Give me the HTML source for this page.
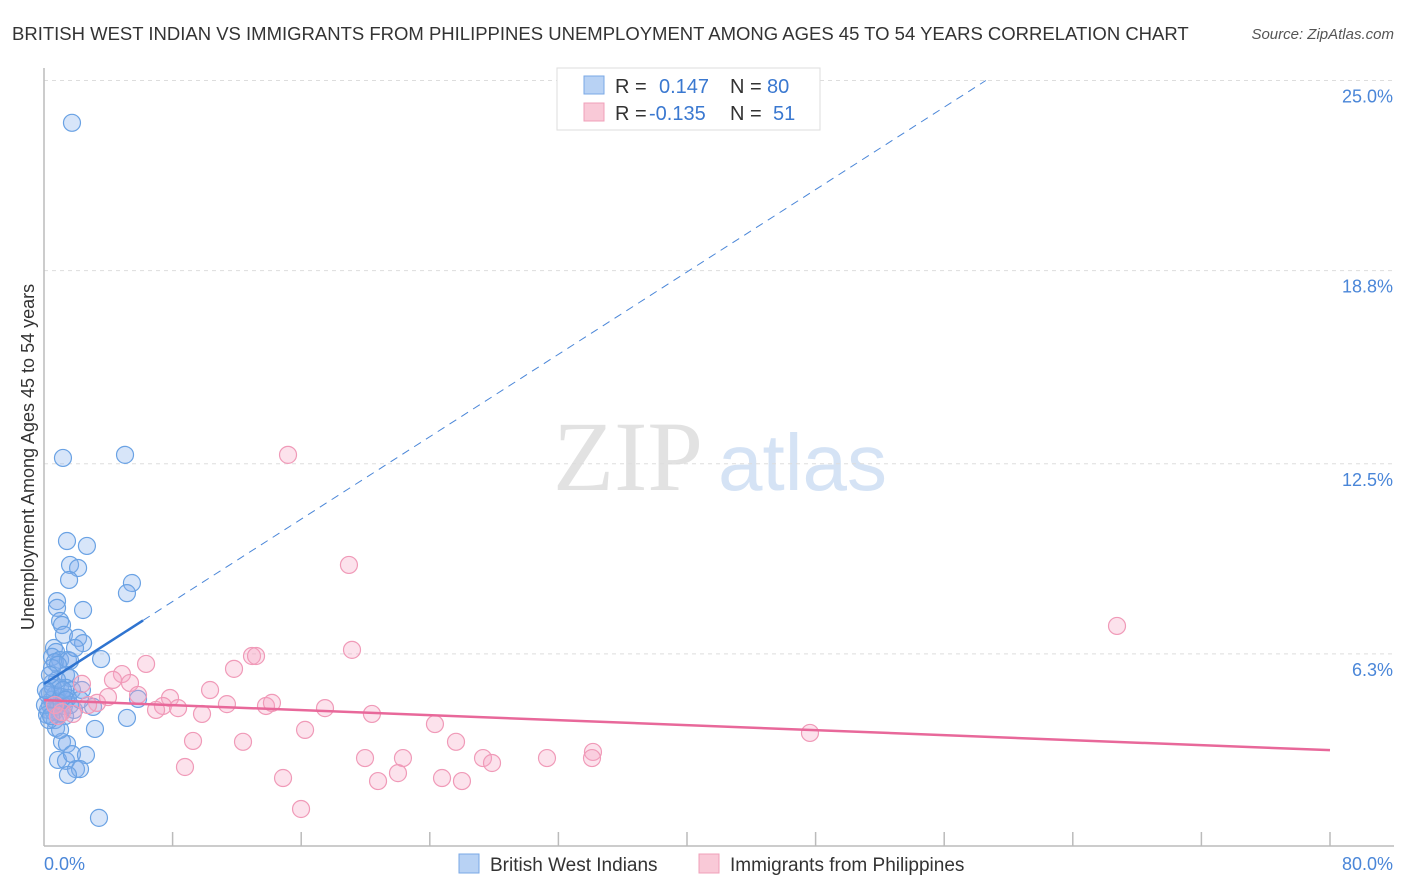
<!DOCTYPE html>
<html><head><meta charset="utf-8"><style>
body{margin:0;background:#fff;font-family:"Liberation Sans",sans-serif;}
svg{display:block}
</style></head><body>
<svg id="chart" width="1406" height="892">
<text x="12" y="40" font-size="18.5" fill="#333">BRITISH WEST INDIAN VS IMMIGRANTS FROM PHILIPPINES UNEMPLOYMENT AMONG AGES 45 TO 54 YEARS CORRELATION CHART</text>
<text x="1394" y="39" font-size="15" fill="#555" font-style="italic" text-anchor="end">Source: ZipAtlas.com</text>
<g>
<text x="553" y="490" font-size="100" font-family="Liberation Serif,serif" fill="#e2e2e2">ZIP</text>
<text x="718" y="490" font-size="80" fill="#d5e3f5">atlas</text>
</g>
<g id="grid"></g>
<g id="axes"></g>
<g id="pts"></g>
<g id="trend"></g>
<text transform="translate(34,457) rotate(-90)" font-size="18" fill="#333" text-anchor="middle">Unemployment Among Ages 45 to 54 years</text>
<text x="44" y="870" font-size="18" fill="#4a86d8">0.0%</text>
<text x="1393" y="870" font-size="18" fill="#4a86d8" text-anchor="end">80.0%</text>
<g>
<rect x="557" y="68" width="263" height="62" fill="#fff" stroke="#ddd"/>
<rect x="584" y="76" width="20" height="18" fill="#b8d2f4" stroke="#7aa8e6"/>
<rect x="584" y="103" width="20" height="18" fill="#f9c9d7" stroke="#f0a0ba"/>
<text x="615" y="93" font-size="20" fill="#333">R =</text>
<text x="659" y="93" font-size="20" fill="#3a78d0">0.147</text>
<text x="730" y="93" font-size="20" fill="#333">N =</text>
<text x="767" y="93" font-size="20" fill="#3a78d0">80</text>
<text x="615" y="120" font-size="20" fill="#333">R =</text>
<text x="649" y="120" font-size="20" fill="#3a78d0">-0.135</text>
<text x="730" y="120" font-size="20" fill="#333">N =</text>
<text x="773" y="120" font-size="20" fill="#3a78d0">51</text>
</g>
<g>
<rect x="459" y="854" width="20" height="19" fill="#b8d2f4" stroke="#7aa8e6"/>
<text x="490" y="871" font-size="19" fill="#333">British West Indians</text>
<rect x="699" y="854" width="20" height="19" fill="#f9c9d7" stroke="#f0a0ba"/>
<text x="730" y="871" font-size="19" fill="#333">Immigrants from Philippines</text>
</g>
</svg>
<script>
const yTicks=[6.3,12.5,18.8,25.0];
const yTickLabels=["6.3%","12.5%","18.8%","25.0%"];
const xTicks=[8,16,24,32,40,48,56,64,72,80];
const blueX=[1.74,1.18,5.04,1.43,2.67,1.62,2.12,1.56,5.47,5.16,0.81,0.81,2.43,1.00,1.12,1.24,2.12,2.43,0.62,0.75,0.50,1.00,0.68,1.49,1.62,3.55,1.37,1.62,0.50,1.00,1.37,1.74,0.37,0.68,1.12,1.49,0.37,0.75,1.24,0.25,0.62,1.00,1.31,0.68,5.85,3.05,5.16,0.75,3.17,1.12,1.43,0.87,1.37,1.74,2.61,1.99,2.24,1.49,3.42,0.50,0.19,0.87,0.25,0.50,1.00,2.36,1.93,0.56,0.81,0.31,1.18,1.62,0.06,0.12,0.44,0.87,1.37,1.87,2.24,0.37];
const blueY=[23.62,12.69,12.79,9.98,9.82,9.20,9.10,8.71,8.61,8.28,8.02,7.80,7.73,7.37,7.24,6.92,6.82,6.65,6.49,6.36,6.20,6.10,6.03,6.10,6.07,6.13,5.61,5.51,5.35,5.19,5.19,5.12,5.02,4.96,4.89,4.86,4.63,4.57,4.60,4.47,4.40,4.34,4.27,4.14,4.83,4.57,4.21,3.88,3.85,3.43,3.36,2.84,2.81,3.03,3.00,2.54,2.54,2.35,0.95,4.80,4.31,4.73,4.96,5.84,3.82,5.12,6.49,5.19,5.45,4.14,5.12,4.63,4.63,5.12,4.27,5.94,4.80,4.47,4.80,5.61];
const pinkX=[15.18,18.97,66.75,12.94,13.19,19.16,11.82,6.35,4.85,5.35,4.29,2.36,5.85,3.98,10.33,7.84,3.30,7.40,6.97,8.34,11.38,13.81,14.18,17.48,9.83,20.40,1.80,1.12,0.68,0.87,24.32,16.24,9.27,12.38,25.63,47.65,19.97,22.33,34.15,34.09,31.29,27.31,27.87,8.77,14.87,20.78,22.02,24.76,26.00,15.99,2.74];
const pinkY=[12.79,9.20,7.21,6.23,6.23,6.43,5.81,5.97,5.64,5.35,5.45,5.32,4.96,4.89,5.12,4.86,4.70,4.60,4.47,4.53,4.66,4.60,4.70,4.53,4.34,4.34,4.34,4.40,4.63,4.27,4.01,3.82,3.46,3.43,3.43,3.72,2.90,2.90,3.10,2.90,2.90,2.90,2.74,2.61,2.25,2.15,2.41,2.25,2.15,1.24,4.63];
const blueTrend=[5.32,0.3359];
const blueSolidEnd=6.16;
const pinkTrend=[4.79,-0.0204];

const NS="http://www.w3.org/2000/svg";
const X=v=>44+v*16.075, Y=v=>847-v*30.66;
function mk(tag,attrs,parent){const e=document.createElementNS(NS,tag);for(const k in attrs)e.setAttribute(k,attrs[k]);parent.appendChild(e);return e;}
const grid=document.getElementById('grid'),axes=document.getElementById('axes'),pts=document.getElementById('pts'),tr=document.getElementById('trend');
yTicks.forEach((t,i)=>{
 const l=mk('line',{x1:44,x2:1394,y1:Y(t),y2:Y(t),stroke:'#ddd','stroke-dasharray':'4,4'},grid);
 
 
 const tx=mk('text',{x:1393,y:Y(t)+22,'font-size':18,fill:'#4a86d8','text-anchor':'end'},grid);
 tx.textContent=yTickLabels[i];
 
 
});
const ya=mk('line',{x1:44,x2:44,y1:68,y2:846,stroke:'#bbb','stroke-width':1.5},axes);


const xa=mk('line',{x1:44,x2:1394,y1:846,y2:846,stroke:'#bbb','stroke-width':1.5},axes);


xTicks.forEach(t=>{
 const l=mk('line',{x1:X(t),x2:X(t),y1:832,y2:846,stroke:'#bbb','stroke-width':1.5},axes);
 
 
});
blueX.forEach((v,i)=>{
 const c=mk('circle',{cx:X(v),cy:Y(blueY[i]),r:8.5,fill:'rgba(130,175,235,0.32)',stroke:'#6aa2e4','stroke-width':1.2},pts);
 
 
});
pinkX.forEach((v,i)=>{
 const c=mk('circle',{cx:X(v),cy:Y(pinkY[i]),r:8.5,fill:'rgba(245,165,195,0.32)',stroke:'#f09ab8','stroke-width':1.2},pts);
 
 
});
const bf=x=>blueTrend[0]+blueTrend[1]*x;
const xTop=(25.0-blueTrend[0])/blueTrend[1];
const bd=mk('line',{x1:X(blueSolidEnd),y1:Y(bf(blueSolidEnd)),x2:X(xTop),y2:Y(bf(xTop)),stroke:'#4a86d8','stroke-width':1,'stroke-dasharray':'8,6'},tr);


const bs=mk('line',{x1:X(0),y1:Y(bf(0)),x2:X(blueSolidEnd),y2:Y(bf(blueSolidEnd)),stroke:'#2f74d0','stroke-width':2.5},tr);


const pf=x=>pinkTrend[0]+pinkTrend[1]*x;
const ps=mk('line',{x1:X(0),y1:Y(pf(0)),x2:X(80),y2:Y(pf(80)),stroke:'#e8689a','stroke-width':2.5},tr);


</script>
</body></html>
